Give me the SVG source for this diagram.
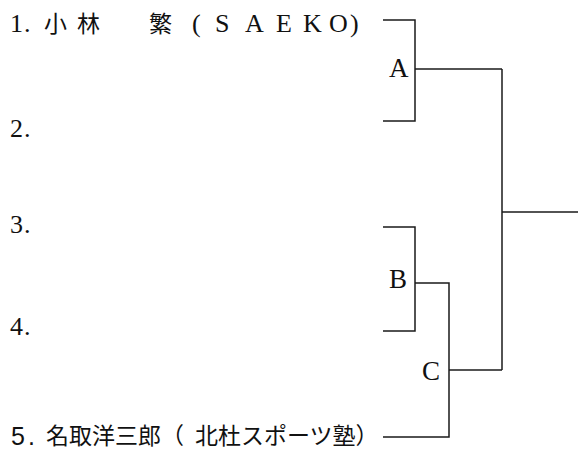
<svg xmlns="http://www.w3.org/2000/svg" width="578" height="451" viewBox="0 0 578 451">
  <style>
    .ser { font-family: "Liberation Serif", "Times New Roman", serif; fill: #111; }
    .num5 { font-family: "Liberation Sans", Arial, sans-serif; font-size: 25px; fill: #111; }
    .jp { font-family: "Noto Sans CJK JP", sans-serif; font-size: 23px; fill: #111; }
    .wire { fill: none; stroke: #1a1a1a; stroke-width: 1.5; }
  </style>
  <rect width="578" height="451" fill="#ffffff"/>

  <g id="entry1">
    <text y="32"><tspan class="ser" font-size="26" x="10 24">1.</tspan><tspan class="jp" x="44 77 113 149">小林　繁</tspan><tspan class="ser" font-size="26" x="192 215 245 276 303 329 350">(SAEKO)</tspan></text>
  </g>
  <g id="entry2">
    <text class="ser" font-size="26" x="10 24" y="137">2.</text>
  </g>
  <g id="entry3">
    <text class="ser" font-size="26" x="10 24" y="233">3.</text>
  </g>
  <g id="entry4">
    <text class="ser" font-size="26" x="10 24" y="335">4.</text>
  </g>
  <g id="entry5">
    <text y="445"><tspan class="num5" x="11 28">5.</tspan><tspan class="jp" x="46" y="444">名取洋三郎（</tspan><tspan class="jp" x="195" y="444">北杜スポーツ塾）</tspan></text>
  </g>

  <g id="matchA">
    <text class="ser" font-size="27" x="389" y="77">A</text>
  </g>
  <g id="matchB">
    <text class="ser" font-size="27" x="389" y="288">B</text>
  </g>
  <g id="matchC">
    <text class="ser" font-size="27" x="422" y="380">C</text>
  </g>

  <g id="connectors">
    <path class="wire" d="M383 20 H415 V121 H383"/>
    <path class="wire" d="M415 69 H502"/>
    <path class="wire" d="M383 227 H415 V331 H383"/>
    <path class="wire" d="M415 283 H449 V437 H383"/>
    <path class="wire" d="M449 370 H502"/>
    <path class="wire" d="M502 69 V370"/>
    <path class="wire" d="M502 212 H578"/>
  </g>
</svg>
